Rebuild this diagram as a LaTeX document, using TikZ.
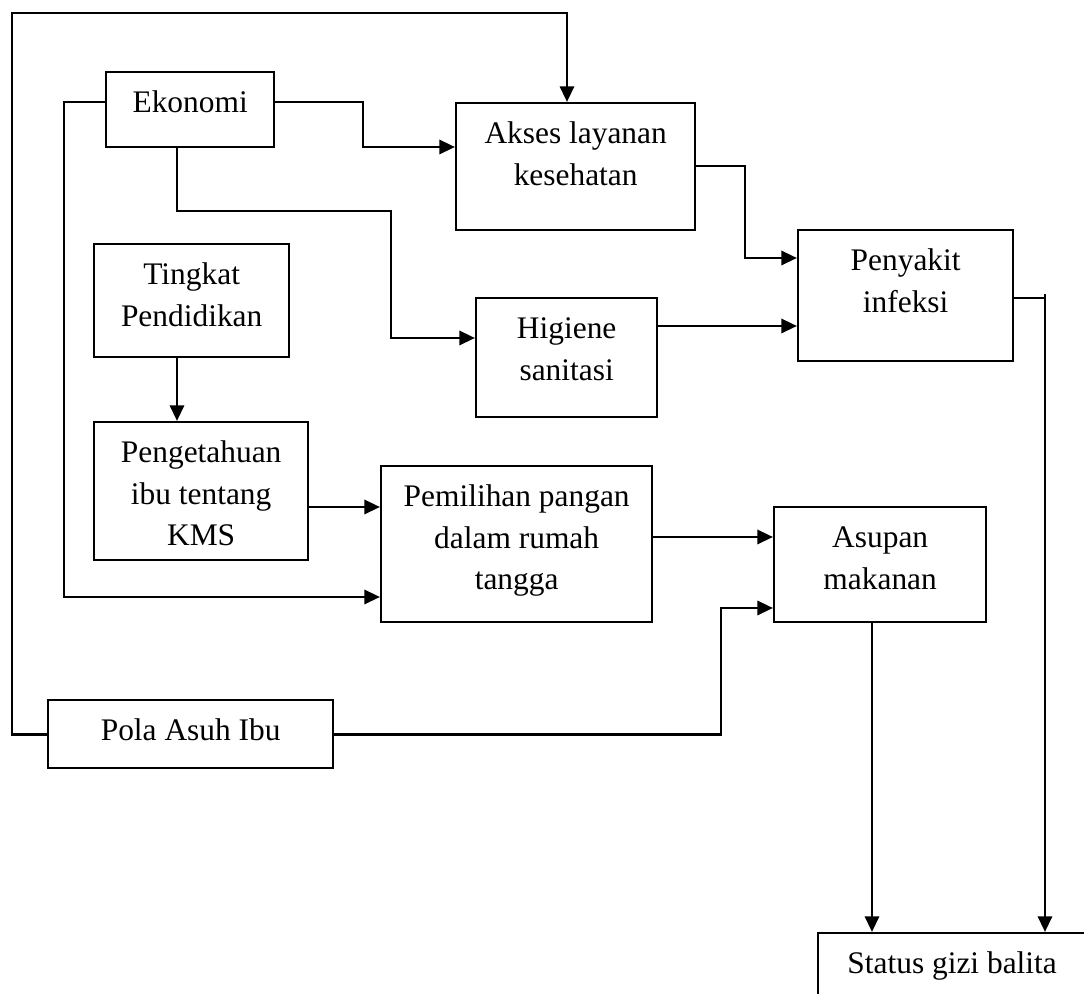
\documentclass[tikz,border=0pt]{standalone}
\usepackage{fontspec}
\setmainfont{Liberation Serif}
\usetikzlibrary{arrows.meta}
\newdimen\upx \upx=0.382pt
% text sits at the top of each box, as in a word-processor text box
\newcommand{\boxtext}[3]{\parbox[t][#2\upx][t]{#1\upx}{\centering\rule{0pt}{15.3pt}#3}}

\begin{document}
\begin{tikzpicture}[x=0.382pt,y=-0.382pt,
  box/.style={draw,line width=0.9pt,inner sep=0pt,anchor=north west,font=\fontsize{12}{16}\selectfont},
  arr/.style={line width=1.1pt,-{Triangle[length=6pt,width=5.4pt]}},
  ln/.style={line width=1.1pt}]
\useasboundingbox (0,0) rectangle (1084,994);
\clip (0,0) rectangle (1084,994);
% boxes, placed by their top left corners (pixel grid, y down)
\node[box] (eko) at (105,71) {\boxtext{168}{75}{Ekonomi}};
\node[box] (akses) at (455,102) {\boxtext{239}{127}{Akses layanan\\kesehatan}};
\node[box] (infeksi) at (797,229) {\boxtext{215}{131}{Penyakit\\infeksi}};
\node[box] (didik) at (93,243) {\boxtext{195}{113}{Tingkat\\Pendidikan}};
\node[box] (higiene) at (475,297) {\boxtext{181}{119}{Higiene\\sanitasi}};
\node[box] (tahu) at (93,421) {\boxtext{214}{138}{Pengetahuan\\ibu tentang\\KMS}};
\node[box] (pangan) at (380,465) {\boxtext{271}{156}{Pemilihan pangan\\dalam rumah\\tangga}};
\node[box] (asupan) at (773,506) {\boxtext{212}{115}{Asupan\\makanan}};
\node[box] (asuh) at (47,699) {\boxtext{285}{68}{Pola Asuh Ibu}};
\node[box] (status) at (817,932) {\boxtext{268}{80}{Status gizi balita}};
% bends of the connectors
\coordinate (top) at (567,13);
\coordinate (e1) at (363,102); \coordinate (e2) at (363,147);
\coordinate (e3) at (64,102);  \coordinate (e4) at (64,597);
\coordinate (e5) at (177,211); \coordinate (e6) at (391,338);
\coordinate (t1) at (0,507);
\coordinate (a1) at (745,166); \coordinate (a2) at (745,258);
\coordinate (h1) at (0,326);
\coordinate (p1) at (0,537);
\coordinate (s1) at (721,608);
\coordinate (g1) at (872,0); \coordinate (g2) at (1045,298);
% pola asuh round the top into akses
\draw[arr] (asuh.west) -| (12,13) -- (top) -- (top |- akses.north);
% ekonomi
\draw[arr] (eko.east |- e1) -- (e1) -- (e2) -- (akses.west |- e2);
\draw[arr] (eko.west |- e3) -- (e3) -- (e4) -- (pangan.west |- e4);
\draw[arr] (eko.south -| e5) -- (e5) -| (e6) -- (higiene.west |- e6);
% pendidikan, pengetahuan, pangan
\draw[arr] (didik.south -| e5) -- (tahu.north -| e5);
\draw[arr] (tahu.east |- t1) -- (pangan.west |- t1);
\draw[arr] (pangan.east |- p1) -- (asupan.west |- p1);
\draw[arr] (asuh.east) -| (s1) -- (asupan.west |- s1);
% into penyakit infeksi
\draw[arr] (akses.east |- a1) -- (a1) -- (a2) -- (infeksi.west |- a2);
\draw[arr] (higiene.east |- h1) -- (infeksi.west |- h1);
% into status gizi
\draw[arr] (asupan.south -| g1) -- (status.north -| g1);
\draw[ln] (infeksi.east |- g2) -- (g2);
\draw[arr] ([yshift=1.5pt]g2) -- (status.north -| g2);
\end{tikzpicture}
\end{document}
